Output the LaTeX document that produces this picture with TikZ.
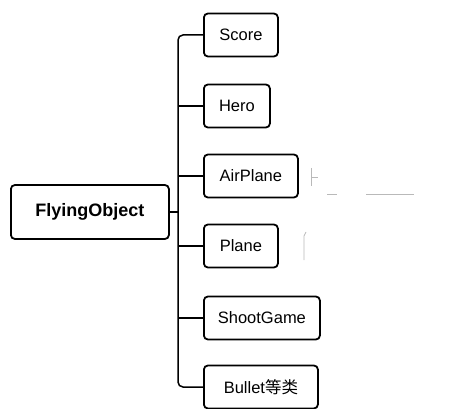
\documentclass[tikz,border=0pt]{standalone}
\usepackage{fontspec}
\setmainfont{Liberation Sans}
\newfontfamily\cjk{Noto Sans CJK SC}
\begin{document}
\begin{tikzpicture}[x=1pt,y=-1pt,
  box/.style={draw, line width=1.8pt, rounded corners=4pt, minimum height=43pt, inner sep=0pt, anchor=west, font=\fontsize{16.5}{18}\selectfont},
  conn/.style={draw, line width=1.5pt, rounded corners=5pt},
  note/.style={draw=gray!55, line width=0.7pt}]
\useasboundingbox (0,0) rectangle (458,409);
\node[box, minimum width=158pt, minimum height=54pt, font=\fontsize{18}{20}\selectfont\bfseries] (fo) at (10,212) {FlyingObject};
\node[box, minimum width=74pt] (score) at (203,35) {Score};
\node[box, minimum width=66pt] (hero) at (203,106) {Hero};
\node[box, minimum width=94pt] (air) at (203,176) {AirPlane};
\node[box, minimum width=74pt] (plane) at (203,246) {Plane};
\node[box, minimum width=116pt] (shoot) at (203,318) {ShootGame};
\node[box, minimum width=114pt] (bullet) at (203,387) {Bullet{\cjk 等类}};
\coordinate (sp) at (178,212);
\draw[conn] (fo.east) -- (sp);
\draw[conn] (score.west) -| (sp);
\draw[conn] (bullet.west) -| (sp);
\draw[conn] (hero.west) -- (hero.west -| sp);
\draw[conn] (air.west) -- (air.west -| sp);
\draw[conn] (plane.west) -- (plane.west -| sp);
\draw[conn] (shoot.west) -- (shoot.west -| sp);
% faint side notes
\draw[note] (311,168) -- (311,186) (311,177) -- (318,177);
\draw[note] (327,194) -- (337,194) (366,194) -- (414,194);
\draw[note] (304,236) -- (304,260) (304,236) -- (306,232);
\end{tikzpicture}
\end{document}
